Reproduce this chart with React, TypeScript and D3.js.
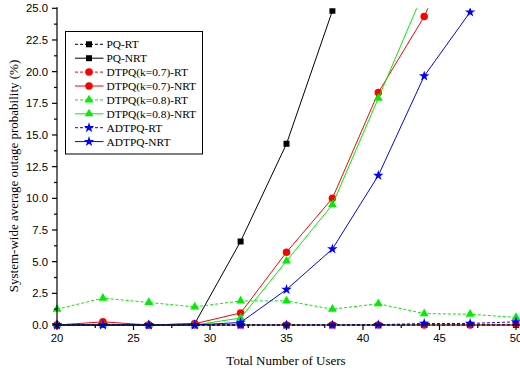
import * as d3 from "d3";
import React from "react";

const USERS = [20, 23, 26, 29, 32, 35, 38, 41, 44, 47, 50];

// values (%), null = not plotted
const pqRT = [0, 0, 0, 0, 0, 0, 0, 0, 0, 0, 0];
const pqNRT = [0, 0, 0, 0.1, 6.6, 14.3, 24.8, null, null, null, null];
const dt7RT = [0, 0.05, 0, 0, 0, 0, 0, 0, 0, 0, 0.05];
const dt7NRT = [0, 0.25, 0, 0.1, 0.95, 5.75, 10.0, 18.35, 24.35, 32.5, null];
const dt8RT = [1.25, 2.12, 1.78, 1.43, 1.9, 1.9, 1.25, 1.68, 0.9, 0.85, 0.6];
const dt8NRT = [0, 0, 0, 0, 0.55, 5.05, 9.5, 17.9, 26.4, null, null];
const adRT = [0, 0, 0, 0, 0, 0, 0, 0.02, 0.12, 0.12, 0.25];
const adNRT = [0, 0, 0, 0, 0.2, 2.8, 6.0, 11.8, 19.65, 24.7, null];

const Y_TICKS = [0, 2.5, 5, 7.5, 10, 12.5, 15, 17.5, 20, 22.5, 25];
const X_TICKS = [20, 25, 30, 35, 40, 45, 50];

const SERIF = "'Liberation Serif', 'Times New Roman', serif";
const SANS = "'Liberation Sans', Arial, sans-serif";

type Series = {
  name: string;
  values: (number | null)[];
  color: string;
  dashed: boolean;
  shape: d3.SymbolType;
  size: number;
};

const SERIES: Series[] = [
  { name: "PQ-RT", values: pqRT, color: "#000000", dashed: true, shape: d3.symbolSquare, size: 36 },
  { name: "PQ-NRT", values: pqNRT, color: "#000000", dashed: false, shape: d3.symbolSquare, size: 36 },
  { name: "DTPQ(k=0.7)-RT", values: dt7RT, color: "#ff0000", dashed: true, shape: d3.symbolCircle, size: 44 },
  { name: "DTPQ(k=0.7)-NRT", values: dt7NRT, color: "#ff0000", dashed: false, shape: d3.symbolCircle, size: 44 },
  { name: "DTPQ(k=0.8)-RT", values: dt8RT, color: "#00ee00", dashed: true, shape: d3.symbolTriangle, size: 34 },
  { name: "DTPQ(k=0.8)-NRT", values: dt8NRT, color: "#00ee00", dashed: false, shape: d3.symbolTriangle, size: 34 },
  { name: "ADTPQ-RT", values: adRT, color: "#0000ff", dashed: true, shape: d3.symbolStar, size: 34 },
  { name: "ADTPQ-NRT", values: adNRT, color: "#0000ff", dashed: false, shape: d3.symbolStar, size: 34 },
];

export default function App() {
  const W = 520, H = 373;
  const x = d3.scaleLinear().domain([20, 50]).range([57, 516]);
  const y = d3.scaleLinear().domain([0, 25]).range([325, 8.3]);

  const line = d3.line<[number, number]>().x(d => x(d[0])).y(d => y(d[1]));

  const yMinor = d3.range(1.25, 25, 2.5);
  const xMinor = d3.range(22.5, 50, 5);

  const legX = 65.5, legY = 31.5, legRow = 13.9;

  return (
    <div style={{ position: "fixed", left: 0, top: 0 }}>
      <svg width={W} height={H} style={{ display: "block", background: "#fff" }}>
        <defs>
          <clipPath id="plot">
            <rect x={x(20) - 5} y={y(25)} width={W - x(20) + 5} height={y(0) - y(25) + 6} />
          </clipPath>
        </defs>

        {/* series */}
        <g clipPath="url(#plot)">
          {SERIES.map(s => {
            const pts = USERS.map((u, i) => [u, s.values[i]] as [number, number | null])
              .filter(p => p[1] != null) as [number, number][];
            return (
              <g key={s.name}>
                <path d={line(pts) ?? ""} fill="none" stroke={s.color} strokeWidth={1}
                  strokeDasharray={s.dashed ? "3,2" : undefined} />
                {pts.map((p, i) => (
                  <path key={i} transform={`translate(${x(p[0])},${y(p[1])})`}
                    d={d3.symbol(s.shape, s.size)() ?? ""} fill={s.color} />
                ))}
              </g>
            );
          })}
        </g>

        {/* axes */}
        <g stroke="#000" strokeWidth={1.2}>
          <line x1={x(20)} x2={x(20)} y1={y(25) - 1} y2={y(0)} />
          <line x1={x(20)} x2={W} y1={y(0)} y2={y(0)} />
          {Y_TICKS.map(t => <line key={t} x1={x(20) - 5} x2={x(20)} y1={y(t)} y2={y(t)} />)}
          {yMinor.map(t => <line key={t} x1={x(20) - 3} x2={x(20)} y1={y(t)} y2={y(t)} />)}
          {X_TICKS.map(t => <line key={t} x1={x(t)} x2={x(t)} y1={y(0)} y2={y(0) + 5} />)}
          {xMinor.map(t => <line key={t} x1={x(t)} x2={x(t)} y1={y(0)} y2={y(0) + 3} />)}
        </g>
        <g fontFamily={SANS} fontSize={11.3} fill="#000">
          {Y_TICKS.map(t => (
            <text key={t} x={x(20) - 9} y={y(t)} dy="0.35em" textAnchor="end">{t.toFixed(1)}</text>
          ))}
          {X_TICKS.map(t => (
            <text key={t} x={x(t)} y={y(0) + 17} textAnchor="middle">{t}</text>
          ))}
        </g>
        <g fontFamily={SERIF} fontSize={13} fill="#000">
          <text x={286} y={365} textAnchor="middle">Total Number of Users</text>
          <text transform="translate(18,176) rotate(-90)" textAnchor="middle">
            System-wide average outage probability (%)
          </text>
        </g>

        {/* legend */}
        <rect x={legX} y={legY} width={137} height={122.5} fill="#fff" stroke="#000" strokeWidth={1} />
        {SERIES.map((s, i) => {
          const cy = legY + 12.8 + i * legRow;
          return (
            <g key={s.name}>
              <line x1={legX + 9.5} x2={legX + 38} y1={cy} y2={cy} stroke={s.color} strokeWidth={1}
                strokeDasharray={s.dashed ? "3,2" : undefined} />
              <path transform={`translate(${legX + 23.5},${cy})`} d={d3.symbol(s.shape, s.size)() ?? ""} fill={s.color} />
              <text x={legX + 41} y={cy} dy="0.35em" fontFamily={SERIF} fontSize={11.4}>{s.name}</text>
            </g>
          );
        })}
      </svg>
    </div>
  );
}
